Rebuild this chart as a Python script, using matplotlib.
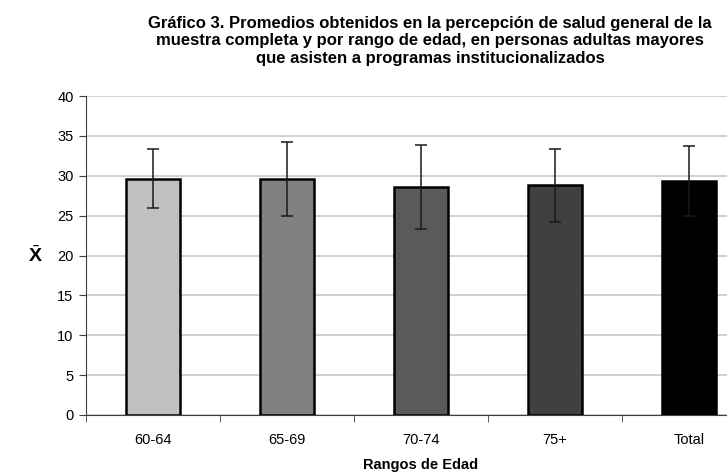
import matplotlib
matplotlib.use('Agg')
import matplotlib.pyplot as plt
import numpy as np

# Promedios de salud general por rango de edad
categorias = ['60-64', '65-69', '70-74', '75+', 'Total']
promedios = [29.6, 29.6, 28.6, 28.8, 29.3]
desv = [3.7, 4.6, 5.3, 4.6, 4.4]
colores = ['#c0c0c0', '#808080', '#5a5a5a', '#404040', '#000000']

plt.rcParams['font.family'] = ['Liberation Sans', 'DejaVu Sans']
plt.rcParams['mathtext.fontset'] = 'custom'
plt.rcParams['mathtext.bf'] = 'Liberation Sans:bold'
plt.rcParams['mathtext.rm'] = 'Liberation Sans'

fig = plt.figure(figsize=(7.27, 4.74), dpi=100)
# plot area runs past the right edge of the picture, as in the original
ax = fig.add_axes([86 / 727, 59 / 474, 670 / 727, 319 / 474])

x = np.arange(len(categorias))
ax.bar(x, promedios, width=0.4, color=colores, edgecolor='black', linewidth=1.8, zorder=3)
ax.errorbar(x, promedios, yerr=desv, fmt='none', ecolor='#1a1a1a', elinewidth=1.1,
            capsize=4, capthick=1.1, zorder=4)

ax.set_xlim(-0.5, len(categorias) - 0.5)
ax.set_ylim(0, 40)
ax.set_yticks(range(0, 41, 5))
ax.yaxis.grid(True, color='#c8c8c8', linewidth=1.2, zorder=0)
ax.set_axisbelow(True)

ax.set_xticks(x)
ax.set_xticklabels(categorias, fontsize=10.5)
ax.set_xticks(np.arange(-0.5, len(categorias), 1), minor=True)
ax.tick_params(axis='x', which='major', length=0, pad=13)
ax.tick_params(axis='x', which='minor', length=5, color='#404040', direction='out')
ax.tick_params(axis='y', labelsize=10.5, length=5, color='#404040', pad=4)

for s in ['top', 'right']:
    ax.spines[s].set_visible(False)
ax.spines['left'].set_color('#404040')
ax.spines['bottom'].set_color('#404040')

fig.text(35 / 727, 1 - 256 / 474, r'$\bar{\mathbf{X}}$', fontsize=14, ha='center', va='center')
fig.text(421 / 727, 1 - 465 / 474, 'Rangos de Edad', fontsize=10.5, fontweight='bold',
         ha='center', va='center')
fig.text(430 / 727, 1 - 41 / 474,
         'Gráfico 3. Promedios obtenidos en la percepción de salud general de la\n'
         'muestra completa y por rango de edad, en personas adultas mayores\n'
         'que asisten a programas institucionalizados',
         fontsize=12, fontweight='bold', ha='center', va='center', linespacing=1.2)

fig.savefig('out.png', dpi=100)
